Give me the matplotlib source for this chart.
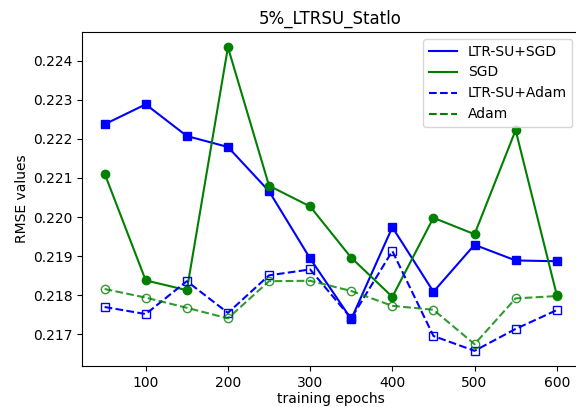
import matplotlib
matplotlib.use("Agg")
from matplotlib import pyplot as plt
from matplotlib.lines import Line2D

epochs = [50, 100, 150, 200, 250, 300, 350, 400, 450, 500, 550, 600]
ltrsu_sgd = [0.22237, 0.22288, 0.22207, 0.22179, 0.22066, 0.21894,
             0.21739, 0.21974, 0.21809, 0.21929, 0.21889, 0.21887]
sgd = [0.22111, 0.21838, 0.21813, 0.22434, 0.22080, 0.22027,
       0.21896, 0.21796, 0.21998, 0.21956, 0.22222, 0.21801]
ltrsu_adam = [0.21770, 0.21752, 0.21836, 0.21755, 0.21851, 0.21866,
              0.21741, 0.21913, 0.21696, 0.21658, 0.21714, 0.21762]
adam = [0.21816, 0.21794, 0.21768, 0.21741, 0.21836, 0.21837,
        0.21811, 0.21773, 0.21763, 0.21675, 0.21792, 0.21798]

fig = plt.figure(figsize=(5.76, 4.07), dpi=100)
ax = fig.add_axes([0.1424, 0.1007, 0.8634, 0.8206])

ax.plot(epochs, ltrsu_sgd, color='b', linestyle='-', marker='s')
ax.plot(epochs, sgd, color='g', linestyle='-', marker='o')
ax.plot(epochs, ltrsu_adam, color='b', linestyle='--', marker='s', mfc='none')
ax.plot(epochs, adam, color='g', linestyle='--', marker='o', mfc='none', alpha=0.8)

# legend shows plain lines only
handles = [Line2D([], [], color='b', linestyle='-'),
           Line2D([], [], color='g', linestyle='-'),
           Line2D([], [], color='b', linestyle='--'),
           Line2D([], [], color='g', linestyle='--')]
ax.legend(handles, ["LTR-SU+SGD", "SGD", "LTR-SU+Adam", "Adam"], loc='upper right')

ax.set_title("5%_LTRSU_Statlo")
ax.set_xlabel("training epochs", labelpad=1.5)
ax.set_ylabel("RMSE values", labelpad=3)

plt.savefig("out.png")
plt.close()
